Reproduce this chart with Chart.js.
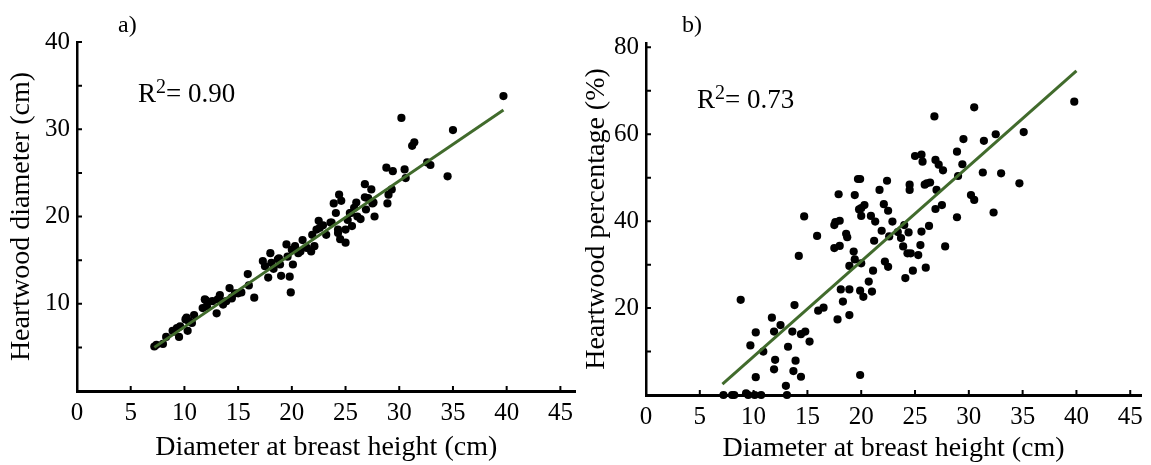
<!DOCTYPE html>
<html>
<head>
<meta charset="utf-8">
<script src="https://cdn.jsdelivr.net/npm/chart.js@4.4.1/dist/chart.umd.min.js"></script>
<style>
  body { margin: 0; background: #fff; width: 1151px; height: 465px; overflow: hidden; position: relative;
         font-family: 'Liberation Serif', 'Times New Roman', serif; color: #000; }
  canvas { position: absolute; top: 0; }
  #panel-a { left: 0; }
  #panel-b { left: 580px; }
  .tag { position: absolute; font-size: 24px; line-height: 1; white-space: nowrap; }
  .r2  { position: absolute; font-size: 27px; line-height: 1; white-space: nowrap; }
  .r2 sup { font-size: 20px; vertical-align: baseline; position: relative; top: -9px; }
</style>
</head>
<body>
<canvas id="panel-a" width="580" height="465"></canvas>
<canvas id="panel-b" width="571" height="465"></canvas>
<div class="tag" style="left:118px;top:12px">a)</div>
<div class="tag" style="left:682px;top:12px">b)</div>
<div class="r2" style="left:138px;top:80px">R<sup>2</sup>= 0.90</div>
<div class="r2" style="left:697px;top:86px">R<sup>2</sup>= 0.73</div>
<script>
/* ── a) heartwood diameter vs DBH ── */
const dbhA = [7.2, 7.4, 8.0, 8.3, 9.0, 9.3, 9.5, 9.6, 10.2, 10.3, 10.4, 10.9, 10.7, 11.7, 11.9, 12.1, 12.6, 13.0, 13.1, 13.3,
  13.6, 13.9, 14.2, 14.4, 14.7, 15.0, 15.3, 15.9, 16.0, 16.5, 17.3, 17.5, 17.8, 18.0, 18.1, 18.3, 18.7, 18.9, 19.0, 19.5,
  19.6, 19.8, 19.9, 20.0, 20.1, 20.3, 20.6, 20.8, 21.0, 21.4, 21.8, 21.9, 22.1, 22.3, 22.5, 22.9, 23.2, 23.7, 23.9, 24.1,
  24.3, 24.4, 24.6, 24.5, 25.0, 25.0, 25.4, 25.6, 25.8, 26.0, 26.1, 26.4, 26.8, 26.9, 27.1, 27.4, 27.6, 27.7, 28.8, 28.9,
  29.0, 29.3, 29.4, 30.2, 30.5, 30.6, 31.2, 31.4, 32.6, 32.9, 34.5, 35.0, 39.7,
  8.9, 10.1, 12.0, 13.4, 14.4, 18.8, 22.6, 23.6, 24.3, 25.2, 25.5, 26.8, 27.5];
const hwdA = [5.1, 5.3, 5.4, 6.2, 6.8, 7.2, 6.2, 7.4, 8.4, 6.9, 8.0, 8.7, 7.8, 9.5, 10.5, 9.7, 10.3, 8.9, 10.5, 11.0,
  9.9, 10.3, 11.8, 10.7, 11.2, 11.2, 11.3, 13.4, 12.1, 10.7, 14.9, 14.3, 13.0, 15.8, 14.7, 14.0, 15.1, 14.5, 13.2, 16.8,
  15.4, 13.1, 11.3, 16.2, 14.5, 16.6, 15.8, 16.0, 17.3, 16.4, 16.0, 17.9, 16.6, 18.5, 19.5, 19.0, 17.9, 19.3, 21.5, 20.4,
  18.1, 22.5, 21.8, 17.4, 17.0, 18.5, 20.4, 18.9, 21.0, 21.6, 20.0, 19.7, 23.7, 20.8, 22.1, 23.1, 21.6, 20.0, 25.6, 21.5,
  22.5, 23.1, 25.2, 31.3, 25.4, 24.4, 28.1, 28.5, 26.2, 25.9, 24.6, 29.9, 33.8,
  6.9, 8.2, 10.4, 10.3, 10.6, 15.2, 18.7, 19.3, 18.5, 19.6, 20.4, 22.2, 21.5];
const fitAX = [7.2, 39.7];
const fitAY = [5.0, 32.2];

/* ── b) heartwood percentage vs DBH ── */
const dbhB = [7.2, 8.0, 8.2, 9.3, 9.5, 10.1, 10.7, 13.1, 13.0, 8.8, 9.7, 10.2, 10.2, 10.9, 11.7, 11.9, 12.0, 11.9, 12.5, 13.2,
  13.6, 13.7, 13.8, 13.9, 14.2, 14.4, 14.4, 14.7, 14.8, 15.2, 15.9, 16.0, 16.5, 17.5, 17.5, 17.6, 17.8, 17.9, 18.0, 18.0,
  18.1, 18.3, 18.6, 18.7, 18.9, 18.9, 18.9, 19.3, 19.4, 19.4, 19.7, 19.9, 19.8, 19.9, 19.9, 20.0, 20.0, 20.0, 20.2, 20.3,
  20.7, 20.9, 21.0, 21.1, 21.2, 21.3, 21.7, 21.9, 22.1, 22.2, 22.4, 22.5, 22.5, 22.6, 22.9, 23.4, 23.7, 23.9, 24.0, 24.1,
  24.3, 24.4, 24.5, 24.5, 24.6, 24.8, 25.0, 25.3, 25.5, 25.6, 25.6, 25.7, 25.9, 26.0, 26.1, 26.3, 26.4, 26.8, 26.9, 26.9,
  27.0, 27.2, 27.5, 27.6, 27.8, 28.9, 28.9, 29.0, 29.4, 29.5, 30.2, 30.5, 30.5, 31.3, 31.4, 32.3, 32.5, 33.0, 34.7, 35.1, 39.8];
const hwpB = [0, 0, 0, 0.4, 0, 0, 0, 0, 2.1, 21.9, 11.4, 14.4, 4.1, 10.0, 17.8, 14.6, 8.1, 5.9, 16.1, 11.1,
  14.6, 5.5, 20.7, 7.9, 32.0, 4.2, 14.0, 41.1, 14.6, 12.3, 36.6, 19.4, 20.1, 33.8, 39.1, 39.8, 17.4, 46.2, 40.1, 34.3,
  24.3, 21.5, 37.1, 36.3, 18.4, 24.3, 29.7, 33.0, 31.2, 46.0, 49.7, 49.7, 42.7, 24.0, 4.6, 30.3, 41.2, 43.0, 22.6, 43.7,
  26.1, 41.2, 23.8, 28.6, 35.5, 39.9, 47.2, 37.8, 43.9, 30.7, 49.3, 42.4, 29.5, 36.5, 39.9, 37.5, 36.1, 34.2, 39.1, 26.9,
  32.6, 37.4, 48.4, 47.2, 32.6, 28.6, 55.0, 32.2, 34.5, 55.3, 37.6, 53.7, 48.4, 29.3, 48.7, 38.9, 48.9, 64.1, 54.1, 42.8,
  47.2, 53.0, 43.7, 51.7, 34.2, 56.0, 40.9, 50.4, 53.1, 58.9, 46.0, 44.9, 66.2, 51.2, 58.5, 42.0, 60.0, 51.0, 48.7, 60.5, 67.5];
const fitBX = [7.1, 40.0];
const fitBY = [2.5, 74.6];

// ticks: labelled values and the shorter inward marks
const xLabels = [0, 5, 10, 15, 20, 25, 30, 35, 40, 45];
const xMarks = [5, 10, 15, 20, 25, 30, 35, 40, 45];
const yLabelsA = [10, 20, 30, 40];
const yMarksA = [5, 10, 15, 20, 25, 30, 35, 40];
const yLabelsB = [20, 40, 60, 80];
const yMarksB = [10, 20, 30, 40, 50, 60, 70, 80];

const SERIF = "'Liberation Serif', 'Times New Roman', serif";
const LINE_GREEN = '#416b2c';

// small inward tick marks along both axes
const inwardTicks = {
  id: 'inwardTicks',
  beforeDatasetsDraw(chart, args, o) {
    const { ctx, scales: { x, y } } = chart;
    ctx.save();
    ctx.strokeStyle = '#000';
    ctx.lineWidth = 2;
    ctx.beginPath();
    o.xMarks.forEach(v => {
      const px = x.getPixelForValue(v);
      ctx.moveTo(px, y.bottom);
      ctx.lineTo(px, y.bottom - o.len);
    });
    o.yMarks.forEach(v => {
      const py = y.getPixelForValue(v);
      ctx.moveTo(x.left, py);
      ctx.lineTo(x.left + o.len, py);
    });
    ctx.stroke();
    ctx.restore();
  }
};

function toPoints(xs, ys) {
  return xs.map((x, i) => ({ x, y: ys[i] }));
}

function makePanel(id, cfg) {
  return new Chart(document.getElementById(id), {
    type: 'scatter',
    data: {
      datasets: [
        { data: toPoints(cfg.xs, cfg.ys), backgroundColor: '#000', borderWidth: 0, pointRadius: 4.1,
          order: 1, clip: false },
        { data: toPoints(cfg.fitX, cfg.fitY), showLine: true, borderColor: LINE_GREEN, borderWidth: 3,
          pointRadius: 0, order: 0, clip: false }
      ]
    },
    plugins: [inwardTicks],
    options: {
      responsive: false, animation: false, devicePixelRatio: 1,
      layout: { padding: { left: 0, top: cfg.top, right: cfg.right, bottom: 0 } },
      plugins: {
        legend: { display: false }, tooltip: { enabled: false },
        inwardTicks: { xMarks, yMarks: cfg.yMarks, len: 5 }
      },
      scales: {
        x: {
          type: 'linear', min: 0, max: cfg.xMax,
          afterBuildTicks: s => { s.ticks = xLabels.map(v => ({ value: v })); },
          afterFit: s => { s.height = cfg.xHeight; },
          grid: { display: false, drawTicks: false },
          border: { display: true, color: '#000', width: 3 },
          ticks: { color: '#000', font: { family: SERIF, size: 25 }, padding: 7, maxRotation: 0, autoSkip: false },
          title: { display: true, text: 'Diameter at breast height (cm)', color: '#000',
                   font: { family: SERIF, size: 28 }, padding: { top: 0, bottom: cfg.xTitlePad } }
        },
        y: {
          type: 'linear', min: 0, max: cfg.yMax,
          afterBuildTicks: s => { s.ticks = cfg.yLabels.map(v => ({ value: v })); },
          afterFit: s => { s.width = cfg.yWidth; },
          grid: { display: false, drawTicks: false },
          border: { display: true, color: '#000', width: 2.5 },
          ticks: { color: '#000', font: { family: SERIF, size: 25 }, padding: 7, autoSkip: false },
          title: { display: true, text: cfg.yTitle, color: '#000',
                   font: { family: SERIF, size: 28 }, padding: { top: cfg.yTitlePad, bottom: 0 } }
        }
      }
    }
  });
}

makePanel('panel-a', {
  xs: dbhA, ys: hwdA, fitX: fitAX, fitY: fitAY,
  xMax: 46.4, yMax: 40, yLabels: yLabelsA, yMarks: yMarksA,
  top: 42, right: 1, yWidth: 77, xHeight: 74, xTitlePad: 1, yTitlePad: 5,
  yTitle: 'Heartwood diameter (cm)'
});

makePanel('panel-b', {
  xs: dbhB, ys: hwpB, fitX: fitBX, fitY: fitBY,
  xMax: 46.0, yMax: 81, yLabels: yLabelsB, yMarks: yMarksB,
  top: 43, right: 10, yWidth: 66, xHeight: 70, xTitlePad: 0, yTitlePad: 0,
  yTitle: 'Heartwood percentage (%)'
});
</script>
</body>
</html>
